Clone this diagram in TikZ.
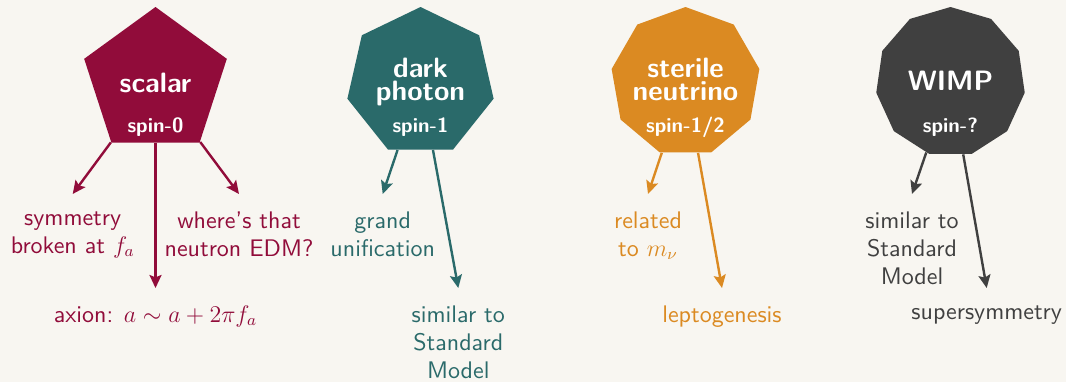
\documentclass[tikz,border=0pt]{standalone}
\usepackage{fontspec}
\setsansfont{lmsans10-regular.otf}[BoldFont=lmsans10-bold.otf]
\usetikzlibrary{shapes.geometric,arrows.meta}
\renewcommand{\familydefault}{\sfdefault}
\definecolor{bgc}{HTML}{F8F6F1}
\definecolor{scal}{HTML}{910C3A}
\definecolor{phot}{HTML}{2A6A6A}
\definecolor{ster}{HTML}{DB8A22}
\definecolor{wimpc}{HTML}{404040}
\tikzset{
  poly/.style={regular polygon, regular polygon sides=#1, minimum size=75pt, inner sep=0pt, draw=none},
  ttl/.style={text=white, font=\sffamily\bfseries\fontsize{14}{11.5}\selectfont, align=center, inner sep=0pt},
  spn/.style={text=white, font=\sffamily\bfseries\fontsize{10.3}{12}\selectfont, inner sep=0pt, anchor=base},
  lab/.style={align=center, anchor=north, inner xsep=0pt, inner ysep=8.5pt, font=\sffamily\fontsize{12}{14}\selectfont},
  arr/.style={-{Stealth[length=6.5pt,width=6pt,inset=1.2pt]}, line width=1.2pt},
}
\begin{document}
\begin{tikzpicture}[x=0.5pt,y=-0.5pt]
\fill[bgc] (0,0) rectangle (1066,382);
\useasboundingbox (0,0) rectangle (1066,382);

% scalar
\node[poly=5, fill=scal] (scalar) at (155.5,82) {};
\node[ttl, anchor=base] (scalarT) at (155.5,92) {scalar};
\node[spn] (scalarS) at (155.5,132) {spin-0};
\node[lab, text=scal] (sym) at (72.7,194) {symmetry\\broken at $f_a$};
\node[lab, text=scal] (edm) at (239,194) {where’s that\\neutron EDM?};
\node[lab, text=scal] (axion) at (155.5,288) {axion: $a\sim a+2\pi f_a$};
\draw[arr, scal] (scalar) -- (sym.north);
\draw[arr, scal] (scalar) -- (edm.north);
\draw[arr, scal] (scalar) -- (axion.north);

% dark photon
\node[poly=7, fill=phot] (photon) at (420.5,82) {};
\node[ttl, anchor=north] (photonT) at (420.5,57.3) {dark\\photon};
\node[spn] (photonS) at (420.5,132) {spin-1};
\node[lab, text=phot] (gut) at (382.7,194) {grand\\unification};
\node[lab, text=phot] (smA) at (458.3,288) {similar to\\Standard\\Model};
\draw[arr, phot] (photon) -- (gut.north);
\draw[arr, phot] (photon) -- (smA.north);

% sterile neutrino
\node[poly=9, fill=ster] (sterile) at (685.5,82) {};
\node[ttl, anchor=north] (sterileT) at (685.5,58) {sterile\\neutrino};
\node[spn] (sterileS) at (685.5,132) {spin-1/2};
\node[lab, text=ster] (mnu) at (648,194) {related\\to $m_\nu$};
\node[lab, text=ster] (lepto) at (722,288) {leptogenesis};
\draw[arr, ster] (sterile) -- (mnu.north);
\draw[arr, ster] (sterile) -- (lepto.north);

% WIMP
\node[poly=11, fill=wimpc] (wimp) at (950.5,82) {};
\node[ttl, anchor=base] (wimpT) at (950.5,90) {WIMP};
\node[spn] (wimpS) at (950.5,132) {spin-?};
\node[lab, text=wimpc] (smB) at (912,194) {similar to\\Standard\\Model};
\node[lab, text=wimpc] (susy) at (986.7,288) {supersymmetry};
\draw[arr, wimpc] (wimp) -- (smB.north);
\draw[arr, wimpc] (wimp) -- (susy.north);
\end{tikzpicture}
\end{document}
